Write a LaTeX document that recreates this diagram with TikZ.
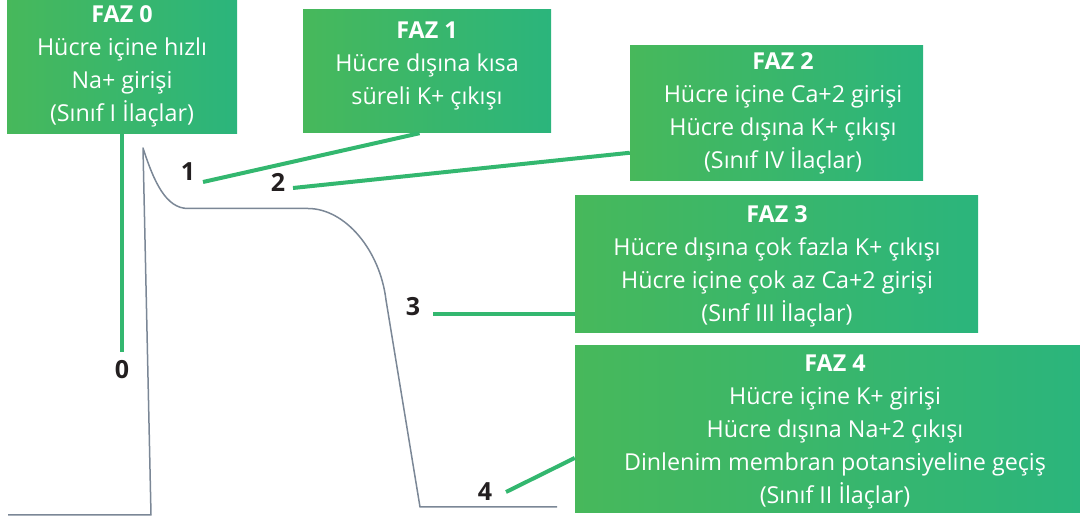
\documentclass[tikz,border=0pt]{standalone}
\usepackage{fontspec}
\setmainfont{Open Sans}
\usetikzlibrary{calc}
\definecolor{gL}{HTML}{47B85B}
\definecolor{gR}{HTML}{2BB57C}
\definecolor{conn}{HTML}{33B76F}
\definecolor{curve}{HTML}{7B8796}
\definecolor{numc}{HTML}{231F20}
\tikzset{
  box/.style={inner sep=0pt, left color=gL, right color=gR, draw=none},
  txt/.style={inner sep=0pt, align=center, text=white, font=\fontsize{23.3}{33}\selectfont},
  num/.style={inner sep=0pt, text=numc, font=\bfseries\fontsize{25}{28}\selectfont},
  link/.style={draw=conn, line width=4pt},
  apc/.style={draw=curve, line width=1.5pt, line join=round}
}
\begin{document}
\begin{tikzpicture}[x=1pt,y=-1pt]
\useasboundingbox (0,0) rectangle (1080,518);
% boxes
\node[box, minimum width=230, minimum height=134] (b0) at (122,67) {};
\node[box, minimum width=248, minimum height=123] (b1) at (427,71.5) {};
\node[box, minimum width=293, minimum height=135] (b2) at (776.5,113.5) {};
\node[box, minimum width=403, minimum height=137] (b3) at (776.5,264.5) {};
\node[box, minimum width=505, minimum height=167] (b4) at (827.5,429.5) {};
% texts
\node[txt] (t0) at (122,66) {\textbf{FAZ 0}\\Hücre içine hızlı\\Na+ girişi\\(Sınıf I İlaçlar)};
\node[txt] (t1) at (427,66) {\textbf{FAZ 1}\\Hücre dışına kısa\\süreli K+ çıkışı};
\node[txt] (t2) at (783,113) {\textbf{FAZ 2}\\Hücre içine Ca+2 girişi\\Hücre dışına K+ çıkışı\\(Sınıf IV İlaçlar)};
\node[txt] (t3) at (777,266) {\textbf{FAZ 3}\\Hücre dışına çok fazla K+ çıkışı\\Hücre içine çok az Ca+2 girişi\\(Sınf III İlaçlar)};
\node[txt] (t4) at (835,432) {\textbf{FAZ 4}\\Hücre içine K+ girişi\\Hücre dışına Na+2 çıkışı\\Dinlenim membran potansiyeline geçiş\\(Sınıf II İlaçlar)};
% numbers
\node[num] (n0) at (122,370) {0};
\node[num] (n1) at (188,172) {1};
\node[num] (n2) at (278,182) {2};
\node[num] (n3) at (413,307) {3};
\node[num] (n4) at (485,492) {4};
% connector endpoints
\coordinate (e0) at (122,352);
\coordinate (e1) at (203,182);
\coordinate (e2) at (293,188);
\coordinate (e3) at (433,314);
\coordinate (e4) at (506,492);
\path[link] (b0.south) -- (e0);
\path[link] (e1) -- ($(b1.south west)!0.47!(b1.south east)$);
\path[link] (e2) -- ($(b2.north west)!0.79!(b2.south west)$);
\path[link] (e3) -- (e3 -| b3.west);
\path[link] (e4) -- ($(b4.north west)!0.67!(b4.south west)$);
% action potential curve
\coordinate (c0) at (8,515);
\coordinate (c1) at (151,515);
\coordinate (pk) at (143,148);
\coordinate (p1) at (188,208.5);
\coordinate (p2) at (308,208.5);
\coordinate (p3) at (386,300);
\coordinate (p4) at (420,507);
\coordinate (p5) at (557,507);
\path[apc] (c0) -- (c1) -- (pk) .. controls (154,182) and (166,208.5) .. (p1) -- (p2)
  .. controls (345,208.5) and (380,250) .. (p3) -- (p4) -- (p5);
\end{tikzpicture}
\end{document}
